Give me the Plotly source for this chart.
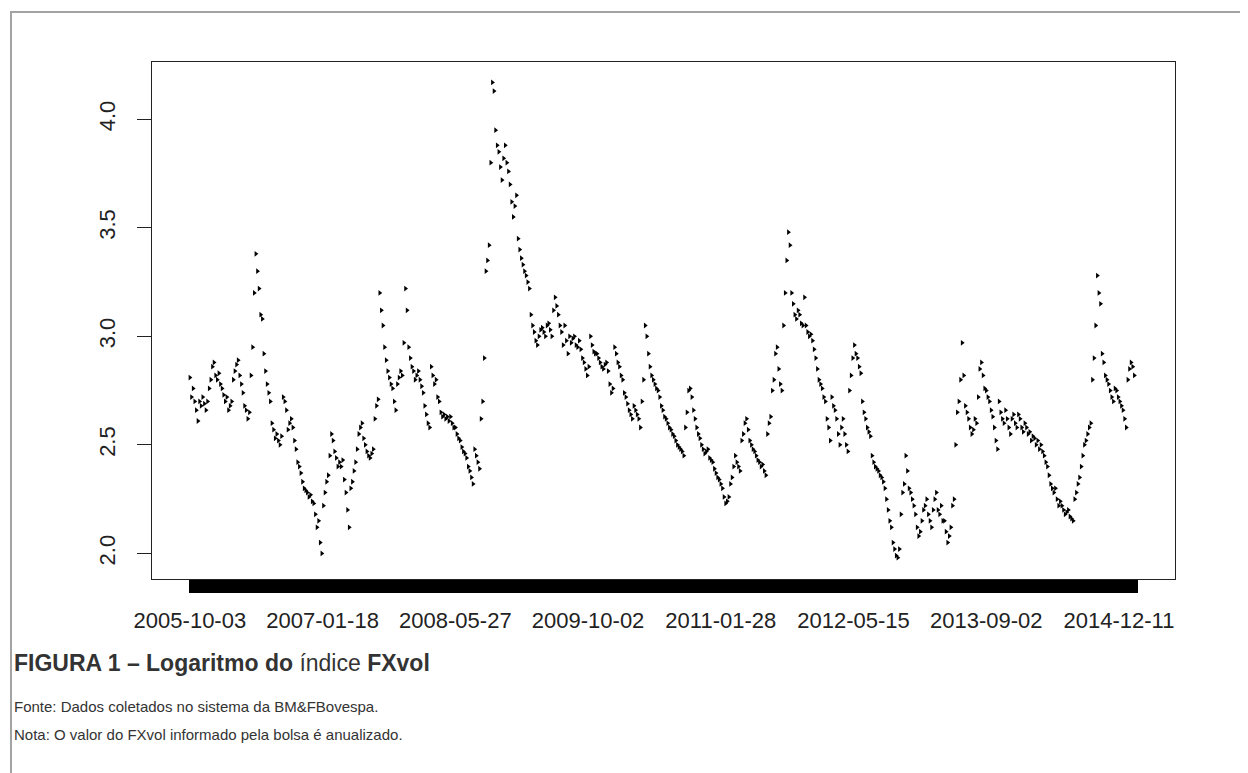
import plotly.graph_objects as go

# Log of FXvol index, one value read every 4 observations (R factor axis order)
log_fxvol = [
    2.81, 2.72, 2.76, 2.70, 2.66, 2.61, 2.70, 2.68, 2.72, 2.69, 2.66,
    2.70, 2.76, 2.80, 2.86, 2.88, 2.82, 2.80, 2.83, 2.78,
    2.76, 2.73, 2.70, 2.72, 2.66, 2.68, 2.70,
    2.80, 2.84, 2.87, 2.89, 2.82, 2.78, 2.74,
    2.68, 2.66, 2.62, 2.65,
    2.82, 2.95, 3.20, 3.38, 3.30, 3.22,
    3.10, 3.08, 2.92,
    2.84, 2.78, 2.74, 2.70,
    2.60, 2.57, 2.53, 2.55, 2.52, 2.50, 2.54,
    2.72, 2.70, 2.66, 2.57, 2.60,
    2.62, 2.58, 2.52, 2.48, 2.42, 2.40,
    2.37, 2.33, 2.30, 2.29, 2.28, 2.26, 2.27, 2.24,
    2.23, 2.18, 2.12, 2.15, 2.05, 2.00,
    2.22, 2.28, 2.33, 2.36, 2.45, 2.55,
    2.52, 2.47, 2.44, 2.40, 2.42, 2.40, 2.43,
    2.34, 2.28, 2.20, 2.12,
    2.30, 2.33, 2.38, 2.42,
    2.48, 2.55, 2.58, 2.60, 2.53, 2.50,
    2.47, 2.45, 2.44, 2.46, 2.48,
    2.62, 2.68, 2.71,
    3.20, 3.12, 3.05, 2.95, 2.89,
    2.84, 2.81, 2.78, 2.76, 2.70, 2.66,
    2.78, 2.81, 2.84, 2.82,
    2.97, 3.22, 3.12, 2.95, 2.90,
    2.86, 2.84, 2.80, 2.82, 2.84, 2.80, 2.77, 2.74,
    2.68, 2.64, 2.60, 2.58,
    2.86, 2.82, 2.78, 2.80, 2.72, 2.70,
    2.65, 2.63, 2.64, 2.62, 2.63, 2.61, 2.63, 2.60, 2.58,
    2.58, 2.55, 2.53, 2.52, 2.49, 2.47,
    2.46, 2.44, 2.40, 2.38, 2.35, 2.32,
    2.48, 2.45, 2.42, 2.39,
    2.62, 2.70, 2.90,
    3.30, 3.35, 3.42,
    3.80, 4.17, 4.13, 3.95,
    3.88, 3.85, 3.78, 3.72, 3.82, 3.88, 3.80, 3.76,
    3.70, 3.62, 3.55, 3.60, 3.65,
    3.45, 3.40, 3.36, 3.33, 3.30, 3.28, 3.25, 3.22,
    3.10, 3.05, 3.02, 2.98, 2.96, 3.00, 3.03,
    3.04, 3.02, 3.00, 3.05, 3.06, 3.03, 3.00,
    3.12, 3.18, 3.14, 3.10, 3.05, 3.02, 2.96,
    3.05, 2.98, 2.92,
    3.00, 2.97, 2.99, 3.00, 2.96, 2.95, 2.98, 2.94,
    2.90, 2.88, 2.85, 2.82, 2.86,
    3.00, 2.96, 2.93, 2.92,
    2.92, 2.90, 2.88, 2.86, 2.85, 2.87, 2.88, 2.84,
    2.78, 2.74, 2.76,
    2.95, 2.92, 2.88, 2.86, 2.82, 2.80,
    2.74, 2.72, 2.69, 2.66, 2.64, 2.62, 2.68, 2.66, 2.64, 2.62, 2.58,
    2.70, 2.80, 3.05, 3.00, 2.92, 2.86,
    2.82, 2.80, 2.78, 2.76, 2.75, 2.72,
    2.68, 2.66, 2.63, 2.62, 2.60, 2.58, 2.57, 2.55,
    2.54, 2.52, 2.50, 2.49, 2.48, 2.47, 2.45,
    2.58, 2.65, 2.75, 2.76, 2.72, 2.66, 2.62,
    2.58, 2.55, 2.53, 2.50, 2.48, 2.46, 2.47, 2.48, 2.44,
    2.43, 2.42, 2.39, 2.37, 2.35, 2.34,
    2.32, 2.30, 2.26, 2.23, 2.24, 2.26,
    2.32, 2.35, 2.40, 2.45, 2.42, 2.40, 2.38,
    2.52, 2.55, 2.60, 2.62, 2.57, 2.52, 2.50, 2.48,
    2.47, 2.45, 2.43, 2.42, 2.40, 2.41, 2.38, 2.36,
    2.55, 2.60, 2.63,
    2.75, 2.80, 2.92, 2.95, 2.85, 2.78, 2.75,
    3.05, 3.20, 3.35, 3.48, 3.42,
    3.20, 3.15, 3.10, 3.08, 3.12, 3.10, 3.06, 3.05,
    3.18, 3.05, 3.02, 3.00, 3.01, 2.98, 2.94, 2.90,
    2.85, 2.80, 2.78, 2.76, 2.72, 2.70,
    2.62, 2.58, 2.52,
    2.72, 2.68, 2.66, 2.62, 2.55, 2.50, 2.58, 2.62, 2.55, 2.50, 2.47,
    2.75, 2.82, 2.90, 2.96, 2.92, 2.90, 2.86, 2.83,
    2.70, 2.65, 2.62, 2.58, 2.56, 2.54,
    2.45, 2.42, 2.40, 2.39, 2.38, 2.36, 2.35, 2.33, 2.30,
    2.25, 2.20, 2.15, 2.12, 2.05, 2.02, 1.99, 1.98, 2.02,
    2.18, 2.28, 2.32, 2.45, 2.38, 2.30, 2.28, 2.25,
    2.22, 2.18, 2.12, 2.08, 2.10, 2.15, 2.20,
    2.22, 2.25, 2.18, 2.15, 2.12, 2.20, 2.25, 2.28, 2.20, 2.18, 2.22, 2.15,
    2.15, 2.10, 2.05, 2.08, 2.12, 2.22, 2.25,
    2.50, 2.65, 2.70, 2.80, 2.97, 2.82, 2.68,
    2.65, 2.62, 2.58, 2.55, 2.57, 2.62, 2.60,
    2.72, 2.85, 2.88, 2.82,
    2.76, 2.75, 2.72, 2.70, 2.66, 2.63,
    2.58, 2.52, 2.48,
    2.70, 2.65, 2.62, 2.60, 2.66, 2.62, 2.58, 2.55, 2.62, 2.64, 2.60, 2.58, 2.64, 2.62, 2.58, 2.56,
    2.60, 2.58, 2.55, 2.56, 2.52, 2.54, 2.53, 2.50, 2.52, 2.48, 2.50, 2.47,
    2.45, 2.42, 2.40, 2.36, 2.32, 2.30, 2.28, 2.30, 2.25, 2.22, 2.24,
    2.22, 2.20, 2.18, 2.19, 2.20, 2.17, 2.16, 2.15,
    2.25, 2.28, 2.32, 2.35, 2.40, 2.45, 2.50,
    2.52, 2.55, 2.58, 2.60,
    2.80, 2.90, 3.05, 3.28, 3.20, 3.15,
    2.92, 2.88, 2.82, 2.80, 2.78, 2.75, 2.72, 2.70,
    2.76, 2.75, 2.72, 2.70, 2.68, 2.66, 2.62, 2.58,
    2.80, 2.85, 2.88, 2.86, 2.82,
]

n_obs = 2356            # number of daily observations (factor levels)
obs_step = 4            # observations between read values
label_step = 330        # R labels every 330th level
date_labels = ["2005-10-03", "2007-01-18", "2008-05-27", "2009-10-02",
               "2011-01-28", "2012-05-15", "2013-09-02", "2014-12-11"]
y_ticks = [2.0, 2.5, 3.0, 3.5, 4.0]
y_ticktext = ["2.0", "2.5", "3.0", "3.5", "4.0"]

caption_title = "<b>FIGURA 1 – Logaritmo do</b> índice <b>FXvol</b>"
caption_source = "Fonte: Dados coletados no sistema da BM&FBovespa."
caption_note = "Nota: O valor do FXvol informado pela bolsa é anualizado."

obs_index = [i * obs_step for i in range(len(log_fxvol))]
label_pos = [i * label_step for i in range(len(date_labels))]
pad = 0.04 * (n_obs - 1)
x_range = [-pad, (n_obs - 1) + pad]

# page body has an 8px margin: figure coordinates = screen - 8
OFF = 8
W, H = 1240, 765
L, T = 152 - OFF, 62 - OFF
R, B = W - (1175 - OFF), H - (579 - OFF)

fig = go.Figure()
fig.add_trace(go.Scatter(
    x=obs_index, y=log_fxvol, mode="markers",
    marker=dict(symbol="triangle-right", size=5, color="black", line=dict(width=0)),
    showlegend=False, hoverinfo="x+y",
))
fig.add_trace(go.Scatter(x=[0], y=[None], xaxis="x2", mode="markers",
                         showlegend=False, hoverinfo="skip"))

tick_font = dict(family="Liberation Sans, Arial, sans-serif", size=22, color="#222")

fig.update_layout(
    width=W, height=H,
    margin=dict(l=L, r=R, t=T, b=B, pad=0),
    paper_bgcolor="white", plot_bgcolor="white",
    xaxis=dict(
        range=x_range, tickmode="array", tickvals=label_pos, ticktext=date_labels,
        ticks="outside", ticklen=13, tickcolor="black", tickwidth=1,
        showline=True, mirror=True, linecolor="#222", linewidth=1.2,
        showgrid=False, zeroline=False, tickfont=tick_font, tickangle=0,
        ticklabelstandoff=8,
    ),
    xaxis2=dict(
        range=x_range, overlaying="x", side="bottom", anchor="y",
        tickmode="array", tickvals=list(range(n_obs)), showticklabels=False,
        ticks="outside", ticklen=13, tickcolor="black", tickwidth=1,
        showline=False, showgrid=False, zeroline=False,
    ),
    yaxis=dict(
        range=[1.882, 4.264], tickmode="array", tickvals=y_ticks, ticktext=y_ticktext,
        ticks="outside", ticklen=14, tickcolor="#222", tickwidth=1,
        showline=True, mirror=True, linecolor="#222", linewidth=1.2,
        showgrid=False, zeroline=False, tickfont=tick_font, tickangle=-90,
        ticklabelstandoff=13,
    ),
)

def px2paper_x(px):
    return (px - OFF - L) / (W - L - R)

def py2paper(py):
    return (H - B - (py - OFF)) / (H - T - B)

fig.add_shape(type="rect", xref="paper", yref="paper",
              x0=px2paper_x(11), x1=px2paper_x(1262),
              y0=py2paper(790), y1=py2paper(12),
              line=dict(color="#a3a3a3", width=2), fillcolor="rgba(0,0,0,0)", layer="below")

cap_font = "Liberation Sans, Arial, sans-serif"

x_cap = px2paper_x(12)
fig.add_annotation(text=caption_title, x=x_cap, y=py2paper(663), xref="paper", yref="paper",
                   xanchor="left", yanchor="middle", showarrow=False,
                   font=dict(family=cap_font, size=23, color="#333"))
fig.add_annotation(text=caption_source, x=x_cap, y=py2paper(706), xref="paper", yref="paper",
                   xanchor="left", yanchor="middle", showarrow=False,
                   font=dict(family=cap_font, size=15, color="#333"))
fig.add_annotation(text=caption_note, x=x_cap, y=py2paper(734), xref="paper", yref="paper",
                   xanchor="left", yanchor="middle", showarrow=False,
                   font=dict(family=cap_font, size=15, color="#333"))

fig.write_html("out.html")
